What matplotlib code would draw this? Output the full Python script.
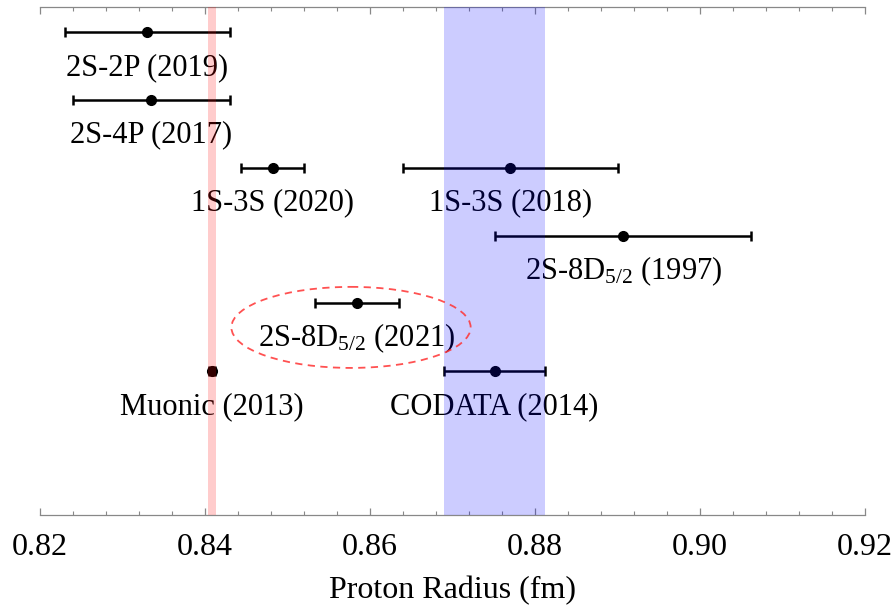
import numpy as np
import matplotlib
matplotlib.use("Agg")
import matplotlib.pyplot as plt
from matplotlib.patches import Ellipse
from matplotlib.ticker import MultipleLocator

# ======================================
# Data (proton radius, fm)
# ======================================

labels = ["2S-2P (2019)", "2S-4P (2017)", "1S-3S (2020)", "1S-3S (2018)",
          "2S-8D$_{\\mathrm{5/2}}$ (1997)", "2S-8D$_{\\mathrm{5/2}}$ (2021)",
          "Muonic (2013)", "CODATA (2014)"]
radius = [0.8330, 0.8335, 0.8482, 0.8770, 0.8907, 0.8584, 0.84087, 0.8751]
error = [0.0100, 0.0095, 0.0038, 0.0130, 0.0155, 0.0051, 0.00039, 0.0061]
row = [1, 2, 3, 3, 4, 5, 6, 6]

muonic_r, muonic_band = 0.84087, 0.0005
codata_r, codata_err = 0.8751, 0.0061

plt.rcParams['font.family'] = ['Liberation Serif', 'DejaVu Serif']
plt.rcParams['mathtext.fontset'] = 'custom'
plt.rcParams['mathtext.rm'] = 'Liberation Serif'
plt.rcParams['mathtext.it'] = 'Liberation Serif:italic'

fig = plt.figure(figsize=(8.96, 6.08), dpi=100)
ax = fig.add_axes([40/896, 1-515/608, 825/896, 508/608])

for lab, r, e, y in zip(labels, radius, error, row):
    ax.errorbar(r, y, xerr=e, fmt='o', color='black', ms=7, lw=1.8,
                capsize=3.5, capthick=1.8, zorder=2)
    ax.text(r, y + 0.52, lab, ha='center', va='center', fontsize=22)

# bands drawn on top, translucent
ax.axvspan(codata_r - codata_err, codata_r + codata_err, color='blue',
           alpha=0.2, lw=0, zorder=3)
ax.axvspan(muonic_r - muonic_band, muonic_r + muonic_band, color='red',
           alpha=0.2, lw=0, zorder=3)

# highlight the new result
ax.add_patch(Ellipse((0.8577, 5.354), 0.0290, 1.195, fill=False,
                     ec='#ff3333', ls=(0, (4, 3)), lw=1.3, alpha=0.85, zorder=4))

ax.set_xlim(0.82, 0.92)
ax.set_ylim(8.12, 0.63)
ax.set_yticks([])
ax.xaxis.set_major_locator(MultipleLocator(0.02))
ax.xaxis.set_minor_locator(MultipleLocator(0.004))
ax.xaxis.set_major_formatter(matplotlib.ticker.FormatStrFormatter('%.2f'))
ax.tick_params(axis='x', which='both', direction='in', top=True, bottom=True,
               color='#888888', labelsize=23, pad=13)
ax.tick_params(axis='x', which='major', length=5, width=0.9)
ax.tick_params(axis='x', which='minor', length=3, width=0.8)
for s in ['left', 'right']:
    ax.spines[s].set_visible(False)
for s in ['top', 'bottom']:
    ax.spines[s].set_color('#888888')
    ax.spines[s].set_linewidth(0.9)

ax.set_xlabel("Proton Radius (fm)", fontsize=23, labelpad=10)

fig.savefig("out.png", dpi=100)
